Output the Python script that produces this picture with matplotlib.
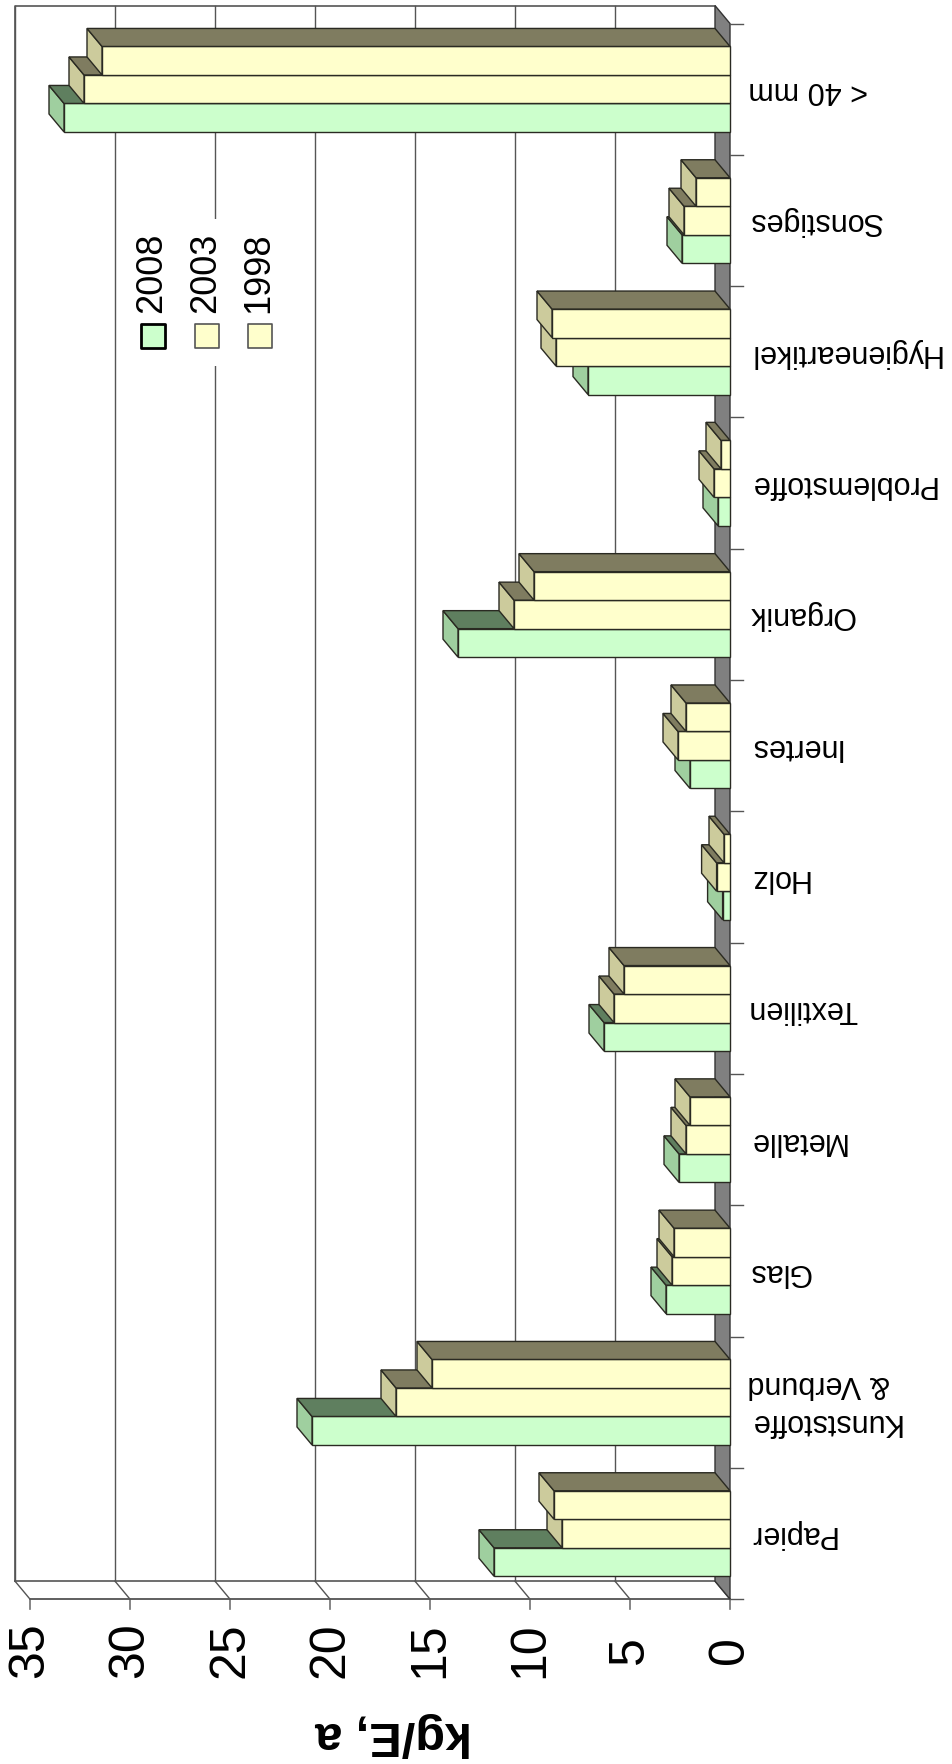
import numpy as np
import matplotlib.pyplot as plt
from matplotlib.patches import Polygon

plt.rcParams['font.family'] = ['Liberation Sans', 'DejaVu Sans']

categories = ['Papier', 'Kunststoffe\n& Verbund', 'Glas', 'Metalle', 'Textilien', 'Holz',
              'Inertes', 'Organik', 'Problemstoffe', 'Hygieneartikel', 'Sonstiges', '< 40 mm']
years = ['2008', '2003', '1998']
v2008 = [11.8, 20.9, 3.2, 2.55, 6.3, 0.37, 2.0, 13.6, 0.6, 7.1, 2.4, 33.3]
v2003 = [8.4, 16.7, 2.9, 2.2, 5.8, 0.67, 2.6, 10.8, 0.8, 8.7, 2.3, 32.3]
v1998 = [8.8, 14.9, 2.8, 2.0, 5.3, 0.3, 2.2, 9.8, 0.45, 8.9, 1.7, 31.4]
value_ticks = [0, 5, 10, 15, 20, 25, 30, 35]
axis_title = 'kg/E, a'

front_col = ['#ccffcc', '#ffffcc', '#ffffcc']
end_col = ['#9fcf9f', '#cccb9c', '#cccb9c']
top_col = ['#5f7f5f', '#7f7c60', '#7f7c60']
edge_col = '#2a2a22'

# page layout (pixels of the 953x1765 picture)
W, H = 953, 1765
x_zero, px_unit = 730, 20.0
y_first, slot = 1534.5, 131.3
dv, di = 15 / px_unit, 18 / slot      # depth of the 3d box
bw = 28.5 / slot


def to_data(xp, yp):
    return (x_zero - xp) / px_unit, (y_first - yp) / slot


fig = plt.figure(figsize=(W / 100, H / 100), dpi=100)
ax = fig.add_axes([0, 0, 1, 1])
ax.set_xlim(x_zero / px_unit, (x_zero - W) / px_unit)
ax.set_ylim((y_first - H) / slot, y_first / slot)
ax.axis('off')

n = len(categories)
idx = np.arange(n)
vmax = value_ticks[-1]
lo, hi = -0.5, n - 0.5

# back wall + grid
ax.plot([vmax + dv, vmax + dv, dv], [lo + di, hi + di, hi + di], color='#555555', lw=1.2, zorder=1)
for t in value_ticks[1:]:
    ax.plot([t + dv, t + dv], [lo + di, hi + di], color='#555555', lw=1.0, zorder=1)
ax.plot([dv, vmax + dv], [lo + di, lo + di], color='#555555', lw=1.2, zorder=1)

# side wall (value axis)
ax.plot([0, vmax], [lo, lo], color='#444444', lw=1.2, zorder=1)
for t in value_ticks:
    ax.plot([t + dv, t, t], [lo + di, lo, lo - 10 / slot], color='#555555', lw=1.0, zorder=1)
    ax.text(t, (y_first - 1650) / slot, str(t), rotation=90, ha='center', va='center',
            fontsize=36, color='black')
ax.text(16.8, (y_first - 1735) / slot, axis_title, rotation=180, ha='center', va='center',
        fontsize=35, fontweight='bold')

# floor
ax.add_patch(Polygon([(0, lo), (0, hi), (dv, hi + di), (dv, lo + di)], closed=True,
                     facecolor='#808080', edgecolor='#333333', lw=1.0, zorder=2))
for k in range(n + 1):
    ax.plot([0, -0.65], [lo + k, lo + k], color='#555555', lw=1.0, zorder=2)

# bars
series = [v2008, v2003, v1998]
for s, vals in enumerate(series):
    pos = idx + (s - 1) * bw
    z = 3 + s
    ax.barh(pos, vals, height=bw, color=front_col[s], edgecolor=edge_col, lw=1.0, zorder=z)
    for y, v in zip(pos, vals):
        y0, y1 = y - bw / 2, y + bw / 2
        ax.add_patch(Polygon([(v, y0), (v, y1), (v + dv, y1 + di), (v + dv, y0 + di)],
                             closed=True, facecolor=end_col[s], edgecolor=edge_col, lw=1.0, zorder=z))
        ax.add_patch(Polygon([(0, y1), (v, y1), (v + dv, y1 + di), (dv, y1 + di)],
                             closed=True, facecolor=top_col[s], edgecolor=edge_col, lw=1.0, zorder=z))

# category labels
for i, c in zip(idx, categories):
    ax.text(-0.9, i, c, rotation=180, ha='left', va='center', fontsize=22,
            multialignment='right', linespacing=1.35)

# legend
lx0, ly0 = to_data(125, 367)
lx1, ly1 = to_data(285, 220)
ax.add_patch(Polygon([(lx0, ly0), (lx1, ly0), (lx1, ly1), (lx0, ly1)], closed=True,
                     facecolor='white', edgecolor='none', zorder=2))
for k, (yr, xp) in enumerate(zip(years, [152.5, 206.5, 259.5])):
    mx, my = to_data(xp, 336.5)
    ax.scatter([mx], [my], marker='s', s=17 ** 2, facecolor=front_col[k],
               edgecolor='black' if k == 0 else '#555555', lw=2.0 if k == 0 else 1.2, zorder=8)
    tx, ty = to_data(xp - 1, 313)
    ax.text(tx, ty, yr, rotation=90, ha='center', va='bottom', fontsize=26, zorder=8)

fig.savefig('out.png', dpi=100)
